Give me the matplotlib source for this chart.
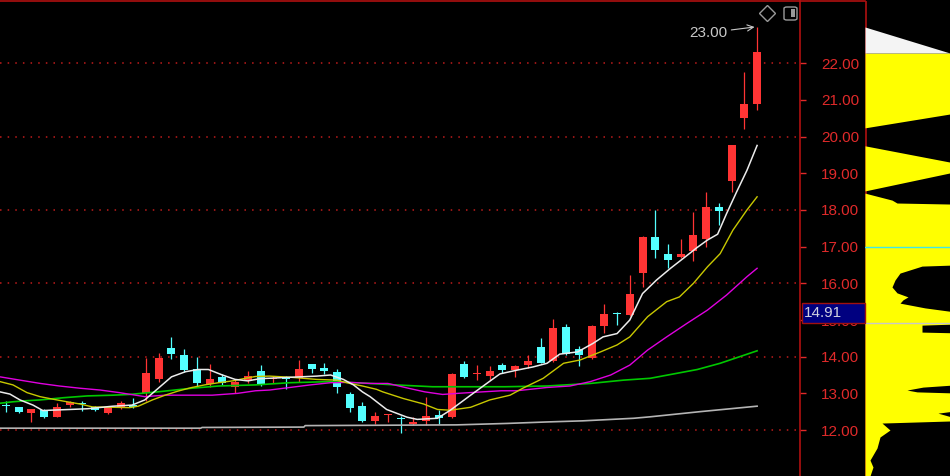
import matplotlib.pyplot as plt
from matplotlib.lines import Line2D
from matplotlib.patches import Rectangle, FancyBboxPatch

plt.rcParams['font.family'] = ['Liberation Sans', 'DejaVu Sans']

# daily candles
opens = [12.68, 12.63, 12.47, 12.54, 12.36, 12.68, 12.72, 12.63, 12.47, 12.64,
         12.69, 13.02, 13.39, 14.23, 14.04, 13.67, 13.25, 13.45, 13.16, 13.36,
         13.62, 13.39, 13.42, 13.41, 13.79, 13.69, 13.59, 12.97, 12.66, 12.25,
         12.42, 12.33, 12.16, 12.25, 12.40, 12.36, 13.79, 13.53, 13.47, 13.77,
         13.63, 13.77, 14.27, 13.88, 14.82, 14.20, 13.97, 14.85, 15.19, 15.13,
         16.29, 17.27, 16.79, 16.72, 16.87, 17.20, 18.09, 18.80, 20.51, 20.88]
highs = [12.80, 12.64, 12.57, 12.56, 12.74, 12.78, 12.79, 12.65, 12.64, 12.78,
         12.86, 13.96, 14.10, 14.54, 14.20, 13.98, 13.80, 13.53, 13.38, 13.62,
         13.77, 13.47, 13.46, 13.91, 13.80, 13.82, 13.66, 13.04, 12.77, 12.50,
         12.45, 12.38, 12.36, 12.89, 12.54, 13.55, 13.89, 13.77, 13.74, 13.82,
         13.78, 14.04, 14.50, 15.02, 14.88, 14.28, 14.86, 15.43, 15.22, 16.22,
         17.28, 18.01, 17.06, 17.22, 17.94, 18.50, 18.20, 19.77, 21.75, 23.00]
lows = [12.50, 12.47, 12.23, 12.33, 12.35, 12.62, 12.53, 12.51, 12.45, 12.58,
        12.60, 12.80, 13.32, 13.93, 13.59, 13.16, 13.18, 13.22, 13.00, 13.29,
        13.20, 13.27, 13.13, 13.32, 13.56, 13.52, 13.02, 12.50, 12.22, 12.16,
        12.23, 11.93, 12.15, 12.15, 12.16, 12.33, 13.42, 13.36, 13.36, 13.56,
        13.44, 13.70, 13.82, 13.86, 14.05, 13.74, 13.95, 14.65, 14.86, 15.10,
        15.89, 16.70, 16.43, 16.70, 16.60, 17.00, 17.59, 18.50, 20.20, 20.72]
closes = [12.65, 12.50, 12.56, 12.36, 12.62, 12.76, 12.70, 12.55, 12.63, 12.74,
          12.62, 13.56, 13.96, 14.07, 13.63, 13.29, 13.38, 13.29, 13.32, 13.47,
          13.23, 13.42, 13.40, 13.66, 13.66, 13.60, 13.16, 12.61, 12.25, 12.39,
          12.44, 12.31, 12.23, 12.39, 12.33, 13.54, 13.45, 13.55, 13.62, 13.63,
          13.75, 13.88, 13.83, 14.77, 14.07, 14.04, 14.85, 15.16, 15.17, 15.72,
          17.27, 16.90, 16.63, 16.81, 17.31, 18.09, 17.96, 19.76, 20.90, 22.31]

# moving average lines, sampled along the chart (x in candle index)
ma5_x = [-0.47, 0.31, 1.1, 2.12, 2.9, 3.46, 5.0, 6.4, 8.4, 9.9,
         10.9, 11.9, 13.0, 14.1, 15.1, 15.9, 17.0, 18.0, 19.0, 19.95,
         22.5, 24.4, 25.5, 26.5, 27.3, 28.0, 28.6, 29.9, 31.5, 32.3,
         33.9, 34.9, 36.5, 38.0, 38.8, 40.1, 41.4, 42.5, 43.5, 44.9,
         46.1, 46.9, 48.0, 49.0, 50.0, 51.1, 52.2, 53.2, 54.3, 55.1,
         55.9, 56.6, 57.4, 58.2, 59.0]
ma5_y = [13.04, 12.98, 12.82, 12.68, 12.53, 12.54, 12.56, 12.58, 12.65, 12.68,
         12.82, 13.12, 13.45, 13.59, 13.65, 13.65, 13.50, 13.38, 13.34, 13.40,
         13.44, 13.47, 13.50, 13.38, 13.23, 13.04, 12.91, 12.56, 12.35, 12.29,
         12.32, 12.54, 12.95, 13.33, 13.53, 13.63, 13.72, 13.82, 14.07, 14.13,
         14.36, 14.54, 14.63, 15.00, 15.72, 16.09, 16.41, 16.68, 16.98, 17.18,
         17.34, 17.90, 18.50, 19.08, 19.76]
ma10_x = [-0.47, 0.55, 1.65, 2.67, 3.7, 4.8, 5.8, 6.8, 8.4, 9.7,
          10.4, 11.5, 12.5, 13.5, 14.6, 15.6, 16.7, 17.8, 18.8, 19.6,
          20.7, 22.3, 24.4, 26.0, 27.0, 28.0, 29.1, 29.6, 31.2, 32.8,
          33.9, 34.9, 35.9, 36.5, 38.0, 39.6, 40.6, 42.2, 43.8, 45.1,
          46.7, 48.0, 49.0, 50.4, 51.9, 52.9, 54.0, 55.1, 56.1, 57.1,
          58.2, 59.0]
ma10_y = [13.32, 13.23, 13.02, 12.91, 12.84, 12.77, 12.71, 12.63, 12.62, 12.61,
          12.65, 12.82, 12.95, 13.06, 13.16, 13.23, 13.29, 13.34, 13.41, 13.46,
          13.47, 13.44, 13.38, 13.36, 13.27, 13.20, 13.11, 13.04, 12.86, 12.71,
          12.56, 12.54, 12.59, 12.62, 12.82, 12.95, 13.14, 13.41, 13.82, 13.91,
          14.13, 14.32, 14.54, 15.09, 15.50, 15.63, 16.00, 16.45, 16.81, 17.45,
          18.00, 18.36]
ma20_x = [-0.47, 1.1, 2.7, 4.2, 5.8, 7.4, 8.9, 10.9, 12.5, 16.2,
          18.2, 19.6, 20.7, 22.3, 23.9, 25.5, 27.0, 28.6, 30.0, 31.6,
          32.9, 34.3, 35.5, 37.4, 38.9, 40.1, 42.5, 44.3, 45.9, 47.5,
          49.0, 50.4, 51.9, 53.5, 55.1, 56.6, 58.2, 59.0]
ma20_y = [13.45, 13.36, 13.27, 13.20, 13.14, 13.09, 13.02, 12.91, 12.95, 12.95,
          13.00, 13.07, 13.09, 13.16, 13.23, 13.29, 13.30, 13.27, 13.27, 13.14,
          13.04, 12.97, 13.00, 13.04, 13.07, 13.07, 13.16, 13.20, 13.32, 13.50,
          13.77, 14.18, 14.54, 14.91, 15.27, 15.68, 16.18, 16.41]
ma60_x = [-0.47, 0.55, 1.65, 2.67, 4.5, 6.4, 8.4, 9.7, 11.9, 14.6,
          16.7, 19.6, 22.3, 25.5, 28.6, 30.6, 33.5, 39.2, 42.5, 45.9,
          48.5, 50.6, 54.3, 56.1, 59.0]
ma60_y = [12.73, 12.77, 12.80, 12.82, 12.88, 12.93, 12.95, 12.97, 13.04, 13.14,
          13.20, 13.23, 13.29, 13.32, 13.27, 13.23, 13.18, 13.18, 13.20, 13.27,
          13.36, 13.41, 13.65, 13.82, 14.16]
ma120_x = [-0.47, 15.3, 15.4, 23.4, 23.5, 35.4, 39.4, 42.5, 45.3, 49.3, 50.6, 54.5, 59.0]
ma120_y = [12.05, 12.05, 12.07, 12.08, 12.12, 12.14, 12.18, 12.22, 12.25, 12.32, 12.36, 12.50, 12.65]

# volume-at-price profile on the right (width in px of the side panel)
prof_price = [22.28, 20.64, 20.24, 19.75, 19.28, 19.04, 18.52, 18.46, 18.27, 18.19,
              18.16, 16.50, 16.47, 16.28, 16.09, 15.90, 15.74, 15.63, 15.55, 15.46,
              15.33, 15.22, 14.89, 14.86, 14.67, 14.65, 13.23, 13.17, 13.09, 13.04,
              13.01, 12.52, 12.46, 12.33, 12.25, 12.19, 12.00, 11.81, 11.51, 11.18,
              10.99, 10.75]
prof_width = [90, 90, 0, 0, 90, 90, 0, 0, 27, 32,
              90, 90, 57, 35, 30, 27, 32, 43, 38, 35,
              60, 90, 90, 57, 57, 90, 90, 58, 42, 52,
              90, 90, 73, 90, 90, 17, 25, 15, 12, 5,
              8, 5]
top_price = [22.28, 22.99]
top_width = [85, 0]

price_ticks = [12, 13, 14, 15, 16, 17, 18, 19, 20, 21, 22]
grid_levels = [12, 14, 16, 18, 20, 22]
last_price = 14.91
mark_price = 17.00
high_text = '23.00'

W, H = 950, 476
RED = '#e02a2a'
DARKRED = '#b01010'
fig = plt.figure(figsize=(9.5, 4.76), dpi=100, facecolor='black')

ax = fig.add_axes([0, 0, 800 / W, 475 / H], facecolor='black')
ax.set_xlim(-0.47, 62.37)
ax.set_ylim(10.746, 23.699)

for lv in grid_levels:
    ax.axhline(lv, color='#c01c1c', lw=1.1, ls=(0, (1, 4)), zorder=1)

for i in range(len(opens)):
    o, h, l, c = opens[i], highs[i], lows[i], closes[i]
    col = '#ff3434' if c >= o else '#54ffff'
    ax.vlines(i, l, h, color=col, lw=0.9, zorder=2)
    ax.bar(i, max(abs(c - o), 0.03), bottom=min(o, c), width=0.63,
           color=col, edgecolor=col, lw=0, zorder=3)

ax.plot(ma120_x, ma120_y, color='#b4b4b4', lw=1.2, zorder=4)
ax.plot(ma60_x, ma60_y, color='#00c800', lw=1.2, zorder=4)
ax.plot(ma20_x, ma20_y, color='#e000e0', lw=1.0, zorder=4)
ax.plot(ma10_x, ma10_y, color='#c8c800', lw=1.0, zorder=4)
ax.plot(ma5_x, ma5_y, color='#ececec', lw=1.1, zorder=5)

ax.annotate(high_text, xy=(58.8, 22.99), xytext=(56.65, 22.83),
            ha='right', va='center', color='#c8c8c8', fontsize=11,
            arrowprops=dict(arrowstyle='->', color='#c8c8c8', lw=0.8,
                            shrinkA=1, shrinkB=0))

for side in ['left', 'bottom']:
    ax.spines[side].set_visible(False)
for side in ['top', 'right']:
    ax.spines[side].set_color(DARKRED)
    ax.spines[side].set_linewidth(1.2)
ax.set_xticks([])
ax.yaxis.tick_right()
ax.set_yticks(price_ticks)
ax.set_yticklabels(['%.2f' % t for t in price_ticks])
ax.tick_params(axis='y', colors=RED, length=4, width=1, direction='out',
               pad=11, labelsize=11)
for t in ax.get_yticklines():
    t.set_color(DARKRED)

# top border over the price scale
fig.add_artist(Line2D([800 / W, 865 / W], [1 - 1 / H, 1 - 1 / H],
                      transform=fig.transFigure, color=DARKRED, lw=1.2))

# side profile
axp = fig.add_axes([865 / W, 0, 85 / W, 475 / H], facecolor='black')
axp.set_xlim(0, 85)
axp.set_ylim(10.746, 23.699)
axp.axvline(0.5, color=DARKRED, lw=1.2, zorder=0)
axp.fill_betweenx(prof_price, 0, prof_width, color='#ffff00', lw=0, zorder=1)
axp.fill_betweenx(top_price, 0, top_width, color='#f4f4f4', lw=0, zorder=1)
axp.axhline(mark_price, color='#40e8e8', lw=1, zorder=2)
axp.axhline(last_price, color='#c8c8c8', lw=1, zorder=2)
axp.axis('off')

# last price tag (sits over the 15.00 label, as in the terminal)
fig.add_artist(Rectangle((802 / W, (H - 323) / H), 63 / W, 20 / H,
                         transform=fig.transFigure, facecolor='#000080',
                         edgecolor='#a01010', lw=1, zorder=5))
fig.text(804 / W, (H - 313) / H, '%.2f' % last_price, color='#d0d0e0',
         fontsize=11, va='center', ha='left', zorder=6)

# toolbar icons
fig.add_artist(Line2D([767 / W], [1 - 13 / H], marker='D', ms=8,
                      mfc='none', mec='#9a9a9a', mew=1,
                      transform=fig.transFigure))
fig.add_artist(FancyBboxPatch((784 / W, (H - 20) / H), 13 / W, 13 / H,
                              boxstyle='round,pad=0,rounding_size=0.003',
                              transform=fig.transFigure, facecolor='none',
                              edgecolor='#9a9a9a', lw=1))
fig.add_artist(Rectangle((791 / W, (H - 17) / H), 4 / W, 8 / H,
                         transform=fig.transFigure, facecolor='#9a9a9a',
                         lw=0))

fig.savefig('out.png', dpi=100, facecolor='black')
